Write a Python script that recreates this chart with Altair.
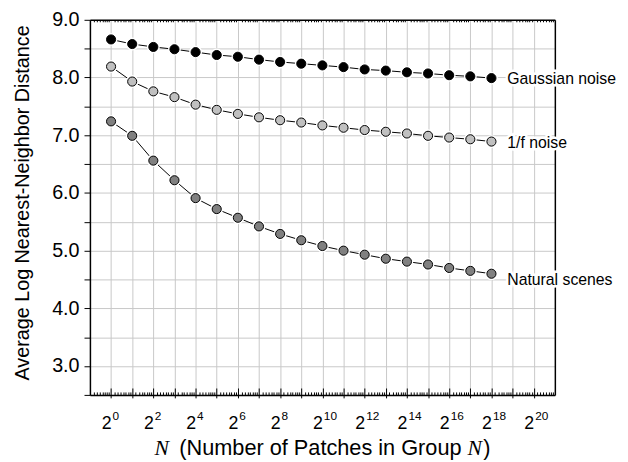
import math
import altair as alt
import pandas as pd

# ---------------- data ----------------
exponents = list(range(19))  # N = 2^0 ... 2^18
gaussian = [8.66, 8.58, 8.53, 8.49, 8.44, 8.39, 8.36, 8.31, 8.27, 8.24,
            8.21, 8.18, 8.14, 8.12, 8.09, 8.07, 8.04, 8.02, 7.99]
one_over_f = [8.19, 7.93, 7.76, 7.66, 7.53, 7.44, 7.37, 7.31, 7.26, 7.22,
              7.17, 7.13, 7.09, 7.06, 7.03, 6.99, 6.96, 6.93, 6.89]
natural = [7.24, 6.99, 6.56, 6.22, 5.91, 5.72, 5.57, 5.42, 5.29, 5.18,
           5.08, 5.00, 4.93, 4.86, 4.81, 4.76, 4.70, 4.65, 4.60]
series_names = ["Gaussian noise", "1/f noise", "Natural scenes"]
series_fill = ["#000000", "#c0c0c0", "#808080"]
label_dy = [1, 2, 6]

x_major = list(range(0, 21))
x_minor = [round(n + math.log2(1 + k / 8), 4) for n in range(-1, 21) for k in range(1, 8)]
y_ticks = [2.5 + 0.5 * i for i in range(14)]

x_title_mid = "(Number of Patches in Group"
x_title_sym = "N"

FONT = "Liberation Sans"
SERIF = "Liberation Serif"
GRID = "#c8c8c8"

rows = []
for name, vals in zip(series_names, [gaussian, one_over_f, natural]):
    for e, v in zip(exponents, vals):
        rows.append({"series": name, "e": e, "v": v})
df = pd.DataFrame(rows)
last = df[df["e"] == exponents[-1]]

xs = alt.Scale(domain=[-1, 21], nice=False, zero=False)
ys = alt.Scale(domain=[2.5, 9.0], nice=False, zero=False)

TITLE_KW = dict(titleY=60, titleAlign="left", titleBaseline="alphabetic",
                titleFontSize=22, titleFontWeight="normal", titleColor="black", titleAngle=0)

x_main_axis = alt.Axis(
    values=x_major, orient="bottom", grid=True, gridColor=GRID, gridWidth=1,
    tickSize=3, tickColor="black", tickWidth=1,
    domainColor="black", domainWidth=1.5,
    labelExpr="datum.value % 2 == 0 ? '2' : ''", labelAlign="right",
    labelFontSize=18, labelFont=FONT, labelColor="black", labelPadding=17,
    labelFlush=False, labelOverlap=False,
    title=x_title_mid, titleX=90, titleFont=FONT, **TITLE_KW,
)
y_main_axis = alt.Axis(
    values=y_ticks, orient="left", grid=True, gridColor=GRID, gridWidth=1,
    tickSize=6, tickColor="black", tickWidth=1,
    domainColor="black", domainWidth=1.5,
    labelExpr="datum.value >= 3 && datum.value % 1 == 0 ? format(datum.value, '.1f') : ''",
    labelFontSize=20, labelFont=FONT, labelColor="black", labelPadding=5,
    labelFlush=False, labelOverlap=False,
    title="Average Log Nearest-Neighbor Distance", titleFontSize=20, titleY=185,
    titleFont=FONT, titleFontWeight="normal", titleColor="black", titlePadding=19,
)

X = alt.X("e:Q", scale=xs, axis=x_main_axis)
Y = alt.Y("v:Q", scale=ys, axis=y_main_axis)

base = alt.Chart(df)
lines = base.mark_line(color="black", strokeWidth=1).encode(x=X, y=Y, detail="series:N")
halos = base.mark_point(filled=True, color="white", size=170, opacity=1).encode(x=X, y=Y)
points = base.mark_point(filled=True, size=85, stroke="black", strokeWidth=1, opacity=1).encode(
    x=X, y=Y,
    fill=alt.Fill("series:N", scale=alt.Scale(domain=series_names, range=series_fill), legend=None),
)
label_layers = []
for name, dy in zip(series_names, label_dy):
    sub = alt.Chart(last).transform_filter(alt.datum.series == name)
    label_layers.append(sub.mark_text(align="left", baseline="middle", dx=16, dy=dy, fontSize=16,
                                      font=FONT, fill="white", stroke="white", strokeWidth=5).encode(x=X, y=Y, text="series:N"))
    label_layers.append(sub.mark_text(align="left", baseline="middle", dx=16, dy=dy, fontSize=16,
                                      font=FONT, fill="black").encode(x=X, y=Y, text="series:N"))

main = alt.layer(lines, halos, points, *label_layers)

major_df = pd.DataFrame({"e": x_major})
minor_df = pd.DataFrame({"e": x_minor})
y_df = pd.DataFrame({"v": y_ticks})

# superscript exponents + italic N
exp_layer = alt.Chart(major_df).mark_point(opacity=0).encode(
    x=alt.X("e:Q", scale=xs, axis=alt.Axis(
        values=x_major, orient="bottom", domain=False, ticks=False, tickSize=0, grid=False,
        labelExpr="datum.value % 2 == 0 ? format(datum.value, 'd') : ''",
        labelAlign="left", labelOffset=1, labelFontSize=12, labelFont=FONT, labelColor="black",
        labelPadding=16, labelFlush=False, labelOverlap=False,
        title=x_title_sym, titleX=65, titleFont=SERIF, titleFontStyle="italic", **TITLE_KW)),
)
# inward major ticks at the bottom
in_major = alt.Chart(major_df).mark_point(opacity=0).encode(
    x=alt.X("e:Q", scale=xs, axis=alt.Axis(
        values=x_major, orient="top", offset=-380, domain=False, labels=False, grid=False,
        tickSize=7, tickColor="black", tickWidth=1,
        title=x_title_sym, titleX=382, titleFont=SERIF, titleFontStyle="italic", **TITLE_KW)),
)
# inward minor ticks at the bottom
in_minor = alt.Chart(minor_df).mark_point(opacity=0).encode(
    x=alt.X("e:Q", scale=xs, axis=alt.Axis(
        values=x_minor, orient="top", offset=-380, domain=False, labels=False, grid=False,
        tickSize=3, tickColor="black", tickWidth=1,
        title=")", titleX=398, titleFont=FONT, **TITLE_KW)),
)
# top border with small inward ticks
top_border = alt.Chart(minor_df).mark_point(opacity=0).encode(
    x=alt.X("e:Q", scale=xs, axis=alt.Axis(
        values=x_minor, orient="bottom", offset=-380, domain=True, domainColor="black", domainWidth=1.5,
        tickSize=2, tickColor="black", tickWidth=1, labels=False, grid=False, title=None)),
)
# right border
right_border = alt.Chart(y_df).mark_point(opacity=0).encode(
    y=alt.Y("v:Q", scale=ys, axis=alt.Axis(
        orient="right", domain=True, domainColor="black", domainWidth=1.5,
        ticks=False, labels=False, grid=False, title=None)),
)

chart = alt.layer(
    main, exp_layer, in_major, in_minor, top_border, right_border
).resolve_scale(x="independent", y="independent").properties(
    width=471, height=380,
    autosize=alt.AutoSizeParams(type="none"),
    padding={"left": 83, "top": 9, "right": 66, "bottom": 65},
).configure_view(stroke=None)

chart.save("out.html", embed_options={"renderer": "svg", "actions": False})
